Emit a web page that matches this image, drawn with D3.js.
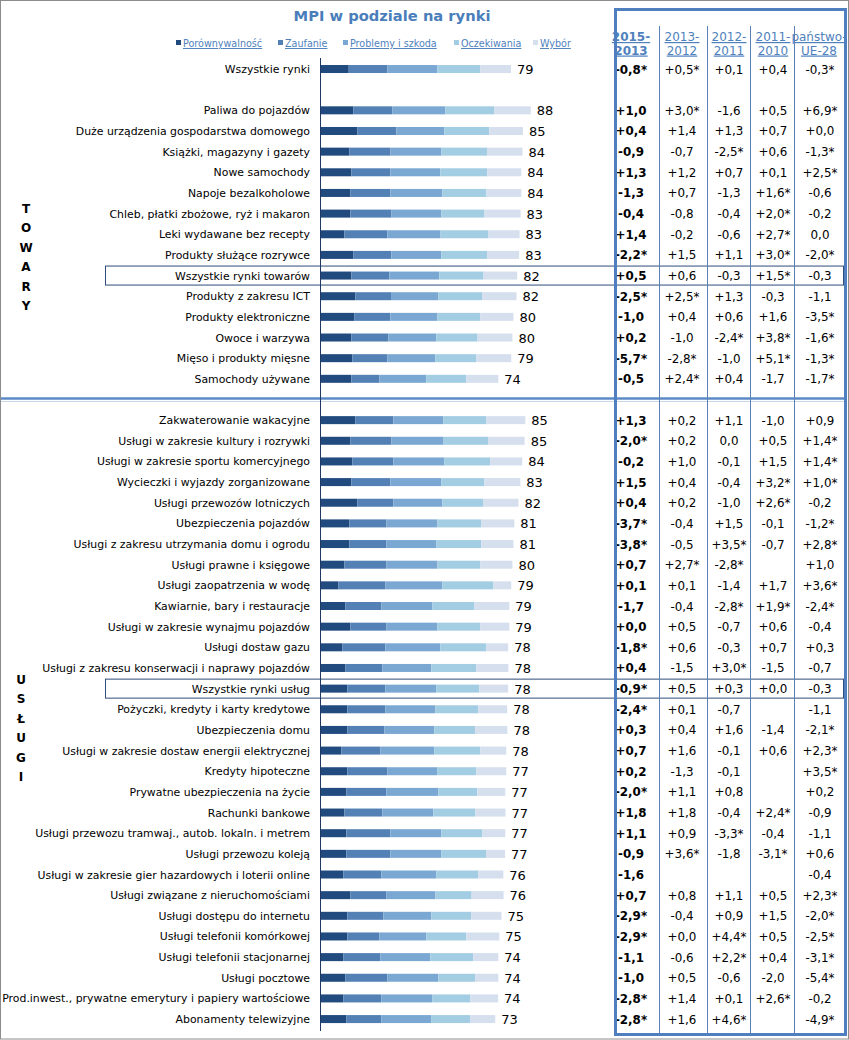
<!DOCTYPE html>
<html><head><meta charset="utf-8">
<script src="https://cdn.jsdelivr.net/npm/d3@7/dist/d3.min.js"></script>
<style>
body{margin:0;background:#fff;}
svg{display:block;font-family:"DejaVu Sans",Verdana,sans-serif;}
</style></head>
<body>
<svg id="c" width="849" height="1040"></svg>
<script>
// ---------- DATA ----------
const categories = [
 "Wszystkie rynki",
 "Paliwa do pojazdów","Duże urządzenia gospodarstwa domowego","Książki, magazyny i gazety","Nowe samochody",
 "Napoje bezalkoholowe","Chleb, płatki zbożowe, ryż i makaron","Leki wydawane bez recepty","Produkty służące rozrywce",
 "Wszystkie rynki towarów","Produkty z zakresu ICT","Produkty elektroniczne","Owoce i warzywa","Mięso i produkty mięsne","Samochody używane",
 "Zakwaterowanie wakacyjne","Usługi w zakresie kultury i rozrywki","Usługi w zakresie sportu komercyjnego","Wycieczki i wyjazdy zorganizowane",
 "Usługi przewozów lotniczych","Ubezpieczenia pojazdów","Usługi z zakresu utrzymania domu i ogrodu","Usługi prawne i księgowe",
 "Usługi zaopatrzenia w wodę","Kawiarnie, bary i restauracje","Usługi w zakresie wynajmu pojazdów","Usługi dostaw gazu",
 "Usługi z zakresu konserwacji i naprawy pojazdów","Wszystkie rynki usług","Pożyczki, kredyty i karty kredytowe","Ubezpieczenia domu",
 "Usługi w zakresie dostaw energii elektrycznej","Kredyty hipoteczne","Prywatne ubezpieczenia na życie","Rachunki bankowe",
 "Usługi przewozu tramwaj., autob. lokaln. i metrem","Usługi przewozu koleją","Usługi w zakresie gier hazardowych i loterii online",
 "Usługi związane z nieruchomościami","Usługi dostępu do internetu","Usługi telefonii komórkowej","Usługi telefonii stacjonarnej",
 "Usługi pocztowe","Prod.inwest., prywatne emerytury i papiery wartościowe","Abonamenty telewizyjne"
];
const groups = ["all"].concat(Array(14).fill("towary"), Array(30).fill("uslugi"));
const highlighted = ["Wszystkie rynki towarów","Wszystkie rynki usług"];

const seriesNames = ["Porównywalność","Zaufanie","Problemy i szkoda","Oczekiwania","Wybór"];
const porownywalnosc = [11.6,13.5,15.2,11.9,12.7,12.3,12.3,9.8,13.5,12.7,14.4,13.9,12.7,13.1,12.7,
 14.4,12.3,13.1,12.7,15.2,11.9,11.9,9.8,7.3,10.2,12.3,8.9,10.2,11.0,11.0,11.0,8.5,11.0,10.6,9.8,10.6,10.6,9.3,12.3,11.0,11.0,9.3,10.2,9.3,10.6];
const zaufanie = [16.2,16.3,16.3,17.2,16.3,16.7,17.2,18.0,15.9,15.9,14.9,15.1,15.5,14.6,11.7,
 15.9,17.2,17.2,16.3,15.1,15.5,15.5,17.6,19.7,15.1,15.1,18.0,15.5,15.9,15.9,15.5,16.3,16.7,16.7,15.9,18.4,18.4,15.9,15.1,15.1,13.4,15.5,17.6,15.9,14.6];
const problemy = [20.9,22.2,20.1,21.3,20.9,21.8,20.9,22.2,20.9,20.9,19.8,19.7,20.1,20.1,19.7,
 20.9,21.8,21.3,21.3,20.5,21.3,20.9,21.3,23.8,21.3,21.3,23.0,20.5,21.3,20.9,20.9,22.6,20.9,21.8,21.3,21.3,21.3,23.0,20.5,20.1,19.7,20.9,21.3,21.3,20.9];
const oczekiwania = [18.0,20.5,18.8,19.1,19.7,18.4,18.0,20.1,19.2,18.5,18.3,18.0,17.2,17.2,16.7,
 18.0,18.8,19.2,18.0,17.2,18.4,18.8,18.0,21.3,17.6,18.0,19.2,18.8,18.0,18.0,17.2,19.2,16.3,16.3,17.6,17.2,18.8,17.6,15.1,16.7,16.7,18.0,15.5,15.9,16.3];
const wybor = [12.8,15.3,14.1,14.8,14.2,14.6,15.1,13.0,13.4,14.1,14.4,13.8,14.6,14.6,13.4,
 16.3,15.1,13.4,15.1,14.6,13.8,13.4,13.4,7.5,14.6,12.1,9.2,13.4,12.1,12.1,13.4,10.9,12.6,11.7,12.6,9.6,7.9,10.5,13.4,12.6,13.8,10.5,9.6,11.7,10.5];
const mpi = [79,88,85,84,84,84,83,83,83,82,82,80,80,79,74,
 85,85,84,83,82,81,81,80,79,79,79,78,78,78,78,78,78,77,77,77,77,77,76,76,75,75,74,74,74,73];

const tableHeaders = [["2015-","2013"],["2013-","2012"],["2012-","2011"],["2011-","2010"],["państwo-","UE-28"]];
const d2015_2013 = ["-0,8*","+1,0","+0,4","-0,9","+1,3","-1,3","-0,4","+1,4","-2,2*","+0,5","-2,5*","-1,0","+0,2","-5,7*","-0,5",
 "+1,3","-2,0*","-0,2","+1,5","+0,4","-3,7*","-3,8*","+0,7","+0,1","-1,7","+0,0","-1,8*","+0,4","-0,9*","-2,4*","+0,3","+0,7","+0,2","-2,0*","+1,8","+1,1","-0,9","-1,6","+0,7","-2,9*","-2,9*","-1,1","-1,0","-2,8*","-2,8*"];
const d2013_2012 = ["+0,5*","+3,0*","+1,4","-0,7","+1,2","+0,7","-0,8","-0,2","+1,5","+0,6","+2,5*","+0,4","-1,0","-2,8*","+2,4*",
 "+0,2","+0,2","+1,0","+0,4","+0,2","-0,4","-0,5","+2,7*","+0,1","-0,4","+0,5","+0,6","-1,5","+0,5","+0,1","+0,4","+1,6","-1,3","+1,1","+1,8","+0,9","+3,6*","","+0,8","-0,4","+0,0","-0,6","+0,5","+1,4","+1,6"];
const d2012_2011 = ["+0,1","-1,6","+1,3","-2,5*","+0,7","-1,3","-0,4","-0,6","+1,1","-0,3","+1,3","+0,6","-2,4*","-1,0","+0,4",
 "+1,1","0,0","-0,1","-0,4","-1,0","+1,5","+3,5*","-2,8*","-1,4","-2,8*","-0,7","-0,3","+3,0*","+0,3","-0,7","+1,6","-0,1","-0,1","+0,8","-0,4","-3,3*","-1,8","","+1,1","+0,9","+4,4*","+2,2*","-0,6","+0,1","+4,6*"];
const d2011_2010 = ["+0,4","+0,5","+0,7","+0,6","+0,1","+1,6*","+2,0*","+2,7*","+3,0*","+1,5*","-0,3","+1,6","+3,8*","+5,1*","-1,7",
 "-1,0","+0,5","+1,5","+3,2*","+2,6*","-0,1","-0,7","","+1,7","+1,9*","+0,6","+0,7","-1,5","+0,0","","-1,4","+0,6","","","+2,4*","-0,4","-3,1*","","+0,5","+1,5","+0,5","+0,4","-2,0","+2,6*",""];
const dEU28 = ["-0,3*","+6,9*","+0,0","-1,3*","+2,5*","-0,6","-0,2","0,0","-2,0*","-0,3","-1,1","-3,5*","-1,6*","-1,3*","-1,7*",
 "+0,9","+1,4*","+1,4*","+1,0*","-0,2","-1,2*","+2,8*","+1,0","+3,6*","-2,4*","-0,4","+0,3","-0,7","-0,3","-1,1","-2,1*","+2,3*","+3,5*","+0,2","-0,9","-1,1","+0,6","-0,4","+2,3*","-2,0*","-2,5*","-3,1*","-5,4*","-0,2","-4,9*"];

// ---------- LAYOUT ----------
const svg = d3.select("#c");
const colors = ["#214a7e","#5381b6","#7ba8d3","#a3cde3","#d5dfee"];
const series = [porownywalnosc, zaufanie, problemy, oczekiwania, wybor];
const blue = "#4f81bd";

// slot index: one blank slot after "all", one after "towary"
const slotOf = (i) => i + (groups[i] === "all" ? 0 : groups[i] === "towary" ? 1 : 2);
const y = d3.scaleBand().domain(d3.range(47)).range([58.7, 1029.4]).paddingInner(0);
const yc = (i) => y(slotOf(i)) + y.bandwidth() / 2;
const x = d3.scaleLinear().domain([0, 100]).range([321, 560]);

// outer frame
svg.append("rect").attr("x",0.5).attr("y",0.5).attr("width",848).attr("height",1038.5)
  .attr("fill","none").attr("stroke","#8c8c8c").attr("stroke-width",1);

// title
svg.append("text").attr("x",392).attr("y",21).attr("text-anchor","middle")
  .attr("font-size",14.7).attr("font-weight","bold").attr("fill","#4a7ebb").text("MPI w podziale na rynki");

// legend
const legendX = [176, 278, 343, 454, 533];
const lg = svg.append("g");
seriesNames.forEach((n, k) => {
  lg.append("rect").attr("x",legendX[k]).attr("y",40).attr("width",5).attr("height",5).attr("fill",colors[k]);
  lg.append("text").attr("x",legendX[k]+7).attr("y",47).attr("font-size",9.6).attr("fill",blue)
    .attr("text-decoration","underline").text(n);
});

// highlight boxes
categories.forEach((c, i) => {
  if (highlighted.includes(c)) {
    svg.append("rect").attr("x",105.5).attr("y",yc(i)-9.5).attr("width",738).attr("height",19)
      .attr("fill","none").attr("stroke","#2e4d7b").attr("stroke-width",1);
  }
});

// separator between groups
const sepY = y(16) + y.bandwidth()/2;
svg.append("line").attr("x1",1).attr("x2",846).attr("y1",sepY-1).attr("y2",sepY-1)
  .attr("stroke","#5b8ac6").attr("stroke-width",2.5);
svg.append("line").attr("x1",1).attr("x2",846).attr("y1",sepY+2).attr("y2",sepY+2)
  .attr("stroke","#c5d6ec").attr("stroke-width",1);

// category labels
svg.append("g").selectAll("text").data(categories).join("text")
  .attr("x",310).attr("y",(d,i)=>yc(i)+4).attr("text-anchor","end")
  .attr("font-size",10.9).attr("fill","#000").text(d=>d);

// stacked bars
const stackData = categories.map((c,i)=>{ const o={i}; seriesNames.forEach((n,k)=>o[n]=series[k][i]); return o; });
const stacked = d3.stack().keys(seriesNames)(stackData);
svg.append("g").selectAll("g").data(stacked).join("g").attr("fill",(d,k)=>colors[k])
  .selectAll("rect").data(d=>d).join("rect")
  .attr("x",d=>x(d[0])).attr("width",d=>x(d[1])-x(d[0]))
  .attr("y",d=>yc(d.data.i)-4).attr("height",8);

// value labels
svg.append("g").selectAll("text").data(mpi).join("text")
  .attr("x",(d,i)=>x(d3.sum(series,s=>s[i]))+6).attr("y",(d,i)=>yc(i)+5)
  .attr("font-size",13).attr("fill","#000").text(d=>d);

// axis line
svg.append("line").attr("x1",320.5).attr("x2",320.5).attr("y1",58).attr("y2",1031)
  .attr("stroke","#1f3864").attr("stroke-width",1);

// group letters
const tow = "TOWARY".split(""), usl = "USŁUGI".split("");
tow.forEach((ch,k)=>svg.append("text").attr("x",26).attr("y",213+k*19.4).attr("text-anchor","middle")
  .attr("font-size",12).attr("font-weight","bold").text(ch));
usl.forEach((ch,k)=>svg.append("text").attr("x",21).attr("y",684+k*19.4).attr("text-anchor","middle")
  .attr("font-size",12).attr("font-weight","bold").text(ch));

// table
const cols = [d2015_2013, d2013_2012, d2012_2011, d2011_2010, dEU28];
const colCenters = [631, 682, 729, 773, 820];
const tg = svg.append("g");
cols.forEach((col,k)=>{
  tg.append("g").selectAll("text").data(col).join("text")
    .attr("x",colCenters[k]).attr("y",(d,i)=>yc(i)+4.5).attr("text-anchor","middle")
    .attr("font-size",11.9).attr("font-weight",k===0?"bold":"normal").attr("fill","#000").text(d=>d);
});
// headers
tableHeaders.forEach((h,k)=>{
  h.forEach((line,j)=>{
    tg.append("text").attr("x",k===4? 819 : colCenters[k]).attr("y",41+j*13.5).attr("text-anchor","middle")
      .attr("font-size",12).attr("font-weight",k===0?"bold":"normal").attr("fill",blue)
      .attr("text-decoration","underline").text(line);
  });
});
// column separators
[659.5, 707.5, 750.5, 794.5].forEach(cx=>{
  tg.append("line").attr("x1",cx).attr("x2",cx).attr("y1",26).attr("y2",1034).attr("stroke","#5b80b8").attr("stroke-width",1);
});
// table frame
tg.append("rect").attr("x",615.5).attr("y",9.5).attr("width",230).attr("height",1025)
  .attr("fill","none").attr("stroke","#4f7fbf").attr("stroke-width",3);
</script>
</body></html>
